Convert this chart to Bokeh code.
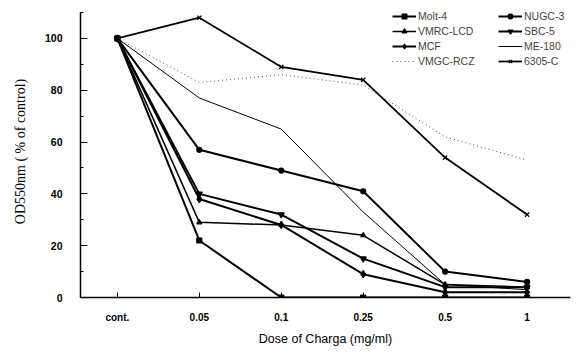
from bokeh.plotting import figure
from bokeh.models import FixedTicker, Legend, LegendItem, Range1d
from bokeh.embed import file_html
from bokeh.resources import INLINE

doses = ["cont.", "0.05", "0.1", "0.25", "0.5", "1"]
xpos = [0, 1, 2, 3, 4, 5]

molt4 = [100, 22, 0, 0, 0, 0]
nugc3 = [100, 57, 49, 41, 10, 6]
vmrc_lcd = [100, 29, 28, 24, 5, 4]
sbc5 = [100, 40, 32, 15, 4, 4]
mcf = [100, 38, 28, 9, 2, 2]
me180 = [100, 77, 65, 33, 5, 3]
vmgc_rcz = [100, 83, 86, 82, 62, 53]
c6305 = [100, 108, 89, 84, 54, 32]

p = figure(width=576, height=354, output_backend="svg", toolbar_location=None,
           x_range=Range1d(-0.45, 5.53), y_range=Range1d(0, 112.7),
           min_border_left=80, min_border_right=6, min_border_top=5, min_border_bottom=57)
p.outline_line_color = None
p.xgrid.visible = False
p.ygrid.visible = False
p.background_fill_color = "white"

items_left = []
items_right = []

def series(y, lw, marker, msize, dash="solid", color="black"):
    r = p.line(xpos, y, line_color=color, line_width=lw, line_dash=dash)
    rs = [r]
    if marker:
        m = p.scatter(xpos, y, marker=marker, size=msize, line_color=color,
                      fill_color=color, line_width=1.2)
        rs.append(m)
    return rs

items_left.append(LegendItem(label="Molt-4", renderers=series(molt4, 2, "square", 5)))
items_right.append(LegendItem(label="NUGC-3", renderers=series(nugc3, 2, "circle", 5)))
items_left.append(LegendItem(label="VMRC-LCD", renderers=series(vmrc_lcd, 1.5, "triangle", 5)))
items_right.append(LegendItem(label="SBC-5", renderers=series(sbc5, 2, "inverted_triangle", 6)))
items_left.append(LegendItem(label="MCF", renderers=series(mcf, 2, "diamond", 7)))
items_right.append(LegendItem(label="ME-180", renderers=series(me180, 1, None, 0)))
items_left.append(LegendItem(label="VMGC-RCZ", renderers=series(vmgc_rcz, 1, None, 0, dash="1 3", color="#555555")))
items_right.append(LegendItem(label="6305-C", renderers=series(c6305, 1.8, "x", 6)))

for items, loc in ((items_left, (312, 230)), (items_right, (418, 230))):
    lg = Legend(items=items, location=loc, orientation="vertical",
                glyph_width=24, glyph_height=12, label_standoff=2, spacing=3,
                padding=0, margin=0, label_height=12,
                label_text_font="Liberation Sans", label_text_font_size="10.5px",
                background_fill_alpha=0, border_line_alpha=0)
    p.add_layout(lg, "center")

# axes
p.xaxis.ticker = FixedTicker(ticks=xpos)
p.xaxis.major_label_overrides = {x: d for x, d in zip(xpos, doses)}
p.xaxis.minor_tick_line_color = None
p.xaxis.major_tick_in = 5
p.xaxis.major_tick_out = 0
p.xaxis.axis_line_width = 1.5
p.xaxis.major_label_text_font = "Liberation Sans"
p.xaxis.major_label_text_font_style = "bold"
p.xaxis.major_label_text_font_size = "10px"
p.xaxis.major_label_standoff = 14
p.xaxis.axis_label = "Dose of Charga (mg/ml)"
p.xaxis.axis_label_text_font = "Liberation Sans"
p.xaxis.axis_label_text_font_style = "normal"
p.xaxis.axis_label_text_font_size = "12.5px"
p.xaxis.axis_label_standoff = 6

p.yaxis.ticker = FixedTicker(ticks=[0, 20, 40, 60, 80, 100], minor_ticks=[10, 30, 50, 70, 90, 110])
p.yaxis.bounds = (0, 110)
p.yaxis.major_tick_in = 7
p.yaxis.major_tick_out = 0
p.yaxis.minor_tick_in = 3
p.yaxis.minor_tick_out = 0
p.yaxis.axis_line_width = 1.5
p.yaxis.major_label_text_font = "Liberation Sans"
p.yaxis.major_label_text_font_style = "bold"
p.yaxis.major_label_text_font_size = "10.5px"
p.yaxis.major_label_standoff = 18
p.yaxis.axis_label = "OD550nm ( % of control)"
p.yaxis.axis_label_text_font = "Liberation Serif"
p.yaxis.axis_label_text_font_style = "normal"
p.yaxis.axis_label_text_font_size = "14px"
p.yaxis.axis_label_standoff = 14

for ax in (p.xaxis, p.yaxis):
    ax.axis_line_color = "black"
    ax.major_tick_line_color = "black"
    ax.major_label_text_color = "black"
    ax.axis_label_text_color = "black"

open("out.html", "w").write(file_html(p, INLINE))
